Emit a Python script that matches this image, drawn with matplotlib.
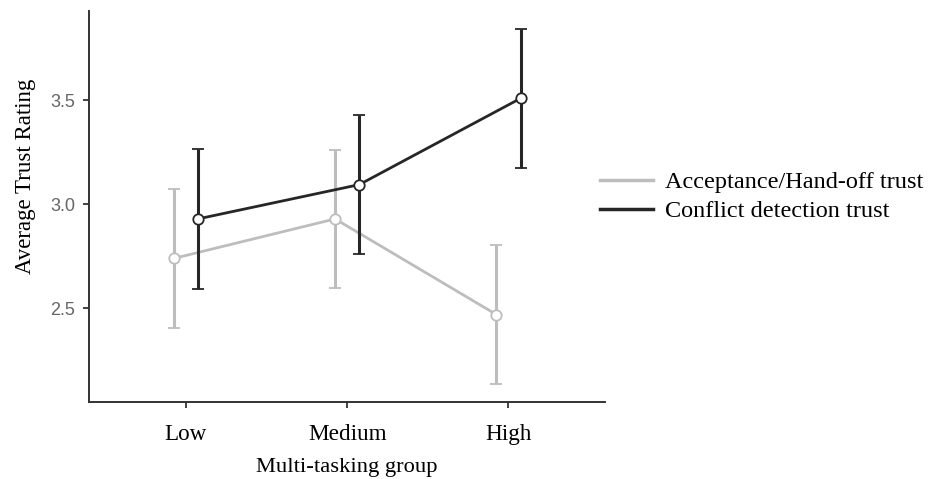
import numpy as np
import matplotlib
matplotlib.use("Agg")
from matplotlib import pyplot as plt
from matplotlib.lines import Line2D

groups = ["Low", "Medium", "High"]
acceptance_mean = [2.74, 2.93, 2.47]
acceptance_ci = [0.335, 0.33, 0.333]
conflict_mean = [2.93, 3.095, 3.51]
conflict_ci = [0.336, 0.333, 0.335]

serif = ["Liberation Serif", "DejaVu Serif"]
sans = ["Liberation Sans", "DejaVu Sans"]

fig = plt.figure(figsize=(9.37, 4.79), dpi=100)
ax = fig.add_axes([0.095, 0.161, 0.551, 0.816])

x = np.arange(len(groups))
dodge = 0.075

light = "#bdbdbd"
dark = "#262626"

ax.errorbar(x - dodge, acceptance_mean, yerr=acceptance_ci, color=light,
            lw=2, elinewidth=2.2, capsize=4, capthick=2,
            marker="o", ms=7.5, mfc="white", mec=light, mew=1.3,
            label="Acceptance/Hand-off trust", zorder=2)
ax.errorbar(x + dodge, conflict_mean, yerr=conflict_ci, color=dark,
            lw=2, elinewidth=2.2, capsize=4, capthick=2,
            marker="o", ms=7.5, mfc="white", mec=dark, mew=1.3,
            label="Conflict detection trust", zorder=3)

ax.set_xlim(-0.6, 2.6)
ax.set_ylim(2.05, 3.93)
ax.set_yticks([2.5, 3.0, 3.5])
ax.set_yticklabels(["2.5", "3.0", "3.5"])
ax.set_xticks(x)
ax.set_xticklabels(groups, family=serif, fontsize=16.7)
for lab in ax.get_yticklabels():
    lab.set_family(sans)
    lab.set_fontsize(13)
    lab.set_color("#666666")

ax.tick_params(axis="both", length=4, width=1.3, color="#333333")
ax.tick_params(axis="x", pad=12)
ax.tick_params(axis="y", pad=6)

for side in ["top", "right"]:
    ax.spines[side].set_visible(False)
for side in ["left", "bottom"]:
    ax.spines[side].set_color("#333333")
    ax.spines[side].set_linewidth(1.4)

ax.set_xlabel("Multi-tasking group", family=serif, fontsize=16.2, labelpad=9)
ax.set_ylabel("Average Trust Rating", family=serif, fontsize=16.5)
# y label sits a little above the middle of the axis
ax.yaxis.set_label_coords(-0.103, 0.578)

labels = ["Acceptance/Hand-off trust", "Conflict detection trust"]
handles = [Line2D([], [], color=light, lw=2.5), Line2D([], [], color=dark, lw=2.5)]
fig.legend(handles, labels, loc="center left", bbox_to_anchor=(0.640, 0.589),
           frameon=False, prop={"family": serif, "size": 17.5},
           handlelength=2.18, handletextpad=0.5, labelspacing=0.29,
           borderpad=0, borderaxespad=0)

fig.savefig("out.png", dpi=100)
